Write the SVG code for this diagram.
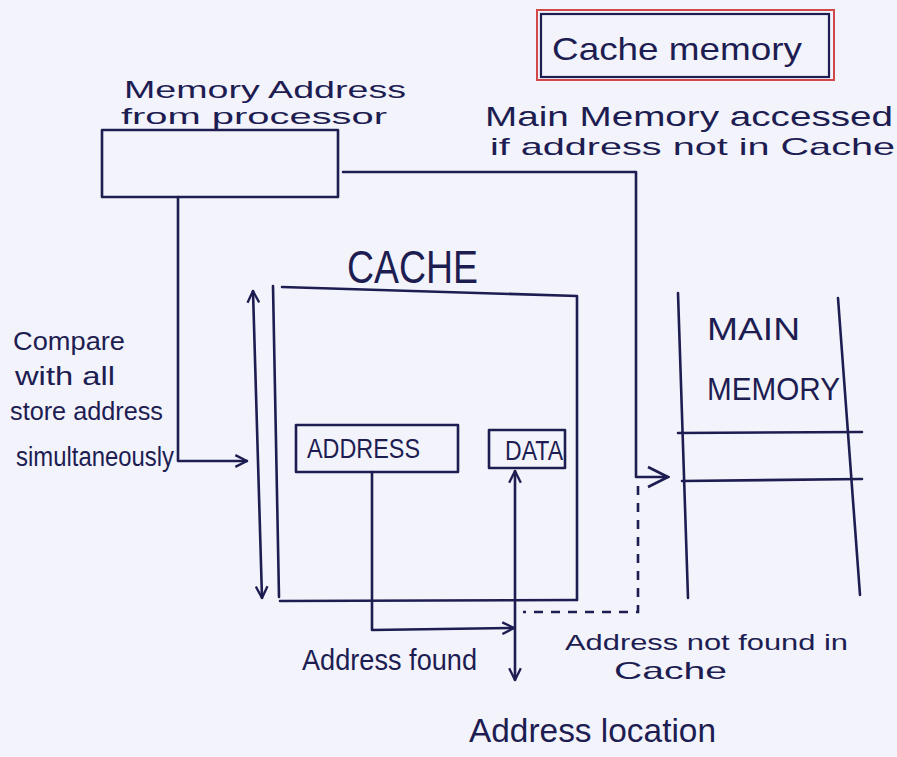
<svg xmlns="http://www.w3.org/2000/svg" width="897" height="757" viewBox="0 0 897 757">
<style>
  .ink { fill: none; stroke: #1d1d52; stroke-width: 2.6; stroke-linecap: round; stroke-linejoin: round; }
  .dash { fill: none; stroke: #1d1d52; stroke-width: 2.6; stroke-dasharray: 9 8; }
  text { font-family: "Liberation Sans", "DejaVu Sans", sans-serif; fill: #1d1d52; }
</style>
<defs>
  <marker id="arr" viewBox="0 0 12 12" refX="11" refY="6" markerWidth="14" markerHeight="14" markerUnits="userSpaceOnUse" orient="auto-start-reverse">
    <path d="M1,1 L11,6 L1,11" fill="none" stroke="#1d1d52" stroke-width="2"/>
  </marker>
  <marker id="arrbig" viewBox="0 0 12 12" refX="11" refY="6" markerWidth="24" markerHeight="24" markerUnits="userSpaceOnUse" orient="auto">
    <path d="M1,1 L11,6 L1,11" fill="none" stroke="#1d1d52" stroke-width="1.3"/>
  </marker>
</defs>
<rect width="897" height="757" fill="#f3f3fb"/>

<g id="title">
  <rect x="537" y="10" width="297" height="70" fill="none" stroke="#d04848" stroke-width="2"/>
  <rect x="541" y="14" width="288" height="63" fill="none" stroke="#1d1d52" stroke-width="2.2"/>
  <text x="552" y="60" font-size="32" textLength="250" lengthAdjust="spacingAndGlyphs">Cache memory</text>
</g>

<g id="processor">
  <text x="124" y="98" font-size="24" textLength="282" lengthAdjust="spacingAndGlyphs">Memory Address</text>
  <text x="121" y="124" font-size="22" textLength="266" lengthAdjust="spacingAndGlyphs">from processor</text>
  <rect x="102" y="130" width="236" height="67" class="ink"/>
</g>

<g id="note-main">
  <text x="485" y="126" font-size="28" textLength="408" lengthAdjust="spacingAndGlyphs">Main Memory accessed</text>
  <text x="490" y="155" font-size="24" textLength="405" lengthAdjust="spacingAndGlyphs">if address not in Cache</text>
</g>

<g id="note-compare">
  <text x="13" y="350" font-size="25" textLength="112" lengthAdjust="spacingAndGlyphs">Compare</text>
  <text x="15" y="385" font-size="25" textLength="100" lengthAdjust="spacingAndGlyphs">with all</text>
  <text x="10" y="420" font-size="25" textLength="153" lengthAdjust="spacingAndGlyphs">store address</text>
  <text x="16" y="466" font-size="27" textLength="158" lengthAdjust="spacingAndGlyphs">simultaneously</text>
</g>

<g id="cache">
  <text x="347" y="283" font-size="46" textLength="131" lengthAdjust="spacingAndGlyphs">CACHE</text>
  <path class="ink" d="M273,286 L279,597"/>
  <path class="ink" d="M282,287 L577,296 L577,600"/>
  <path class="ink" d="M280,601 L577,600"/>
</g>

<g id="address-field">
  <rect x="296" y="425" width="162" height="47" class="ink"/>
  <text x="307" y="458" font-size="27" textLength="113" lengthAdjust="spacingAndGlyphs">ADDRESS</text>
</g>

<g id="data-field">
  <rect x="489" y="430" width="76" height="38" class="ink"/>
  <text x="505" y="460" font-size="27" textLength="58" lengthAdjust="spacingAndGlyphs">DATA</text>
</g>

<g id="main-memory">
  <path class="ink" d="M678,293 L688,598"/>
  <path class="ink" d="M838,298 L860,595"/>
  <path class="ink" d="M678,433 L862,432"/>
  <path class="ink" d="M682,481 L862,479"/>
  <text x="707" y="340" font-size="31" textLength="93" lengthAdjust="spacingAndGlyphs">MAIN</text>
  <text x="707" y="400" font-size="31" textLength="133" lengthAdjust="spacingAndGlyphs">MEMORY</text>
</g>

<g id="connectors">
  <path class="ink" d="M178,197 V461 H247" marker-end="url(#arr)"/>
  <path class="ink" d="M253,291 L262,598" marker-start="url(#arr)" marker-end="url(#arr)"/>
  <path class="ink" d="M343,172 H636 V477 H668" marker-end="url(#arrbig)"/>
  <path class="ink" d="M372,472 V630 L514,628" marker-end="url(#arr)"/>
  <path class="ink" d="M515,471 V680" marker-start="url(#arr)" marker-end="url(#arr)"/>
  <path class="dash" d="M638,486 V612 H523"/>
</g>

<g id="labels-bottom">
  <text x="302" y="670" font-size="29" textLength="175" lengthAdjust="spacingAndGlyphs">Address found</text>
  <text x="565" y="650" font-size="22" textLength="283" lengthAdjust="spacingAndGlyphs">Address not found in</text>
  <text x="614" y="679" font-size="24" textLength="113" lengthAdjust="spacingAndGlyphs">Cache</text>
  <text x="469" y="742" font-size="34" textLength="247" lengthAdjust="spacingAndGlyphs">Address location</text>
</g>
</svg>
